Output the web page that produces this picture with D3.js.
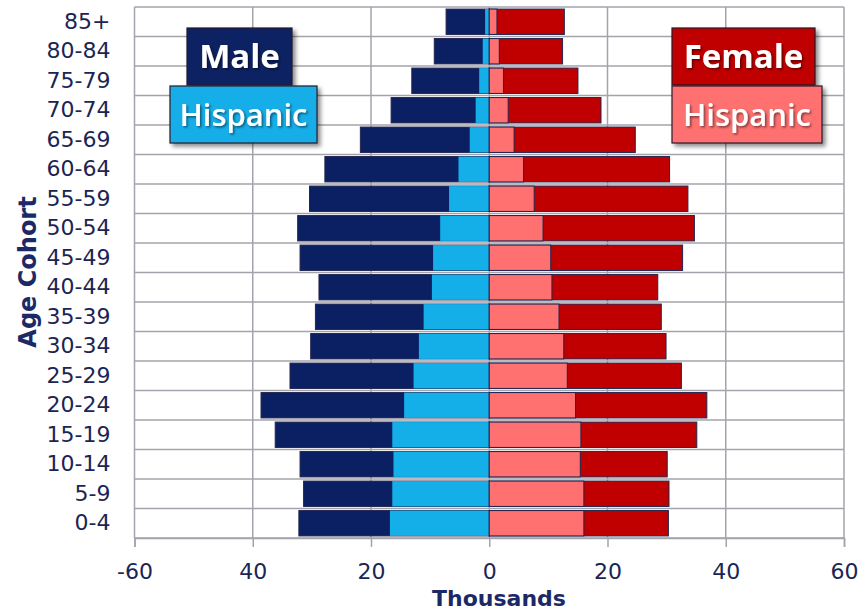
<!DOCTYPE html>
<html>
<head>
<meta charset="utf-8">
<script src="https://cdn.jsdelivr.net/npm/d3@7"></script>
<style>
	body { margin: 0; background: #fff; }
	svg { display: block; }
	.tick text { font-family: "DejaVu Sans", sans-serif; fill: #1b2553; }
</style>
</head>
<body>
<div id="chart"></div>
<script>
// Age cohorts, bottom to top
const ageGroups = ["0-4", "5-9", "10-14", "15-19", "20-24", "25-29", "30-34", "35-39", "40-44",
	"45-49", "50-54", "55-59", "60-64", "65-69", "70-74", "75-79", "80-84", "85+"];

// Thousands of people
const maleTotal      = [32.2, 31.4, 32.0, 36.2, 38.6, 33.7, 30.2, 29.4, 28.8, 32.0, 32.4, 30.4, 27.8, 21.8, 16.6, 13.1, 9.3, 7.3];
const maleHispanic   = [16.8, 16.4, 16.2, 16.4, 14.4, 12.8, 11.9, 11.1, 9.7, 9.5, 8.3, 6.8, 5.2, 3.3, 2.3, 1.7, 1.1, 0.7];
const femaleTotal    = [30.3, 30.4, 30.1, 35.1, 36.8, 32.5, 29.9, 29.1, 28.5, 32.7, 34.7, 33.6, 30.5, 24.7, 18.9, 15.0, 12.4, 12.7];
const femaleHispanic = [16.0, 16.0, 15.4, 15.5, 14.6, 13.2, 12.6, 11.8, 10.6, 10.4, 9.1, 7.6, 5.8, 4.2, 3.2, 2.4, 1.7, 1.3];

const xTicks      = [-60, -40, -20, 0, 20, 40, 60];
const xTickLabels = ["-60", "40", "20", "0", "20", "40", "60"];

const width = 861, height = 613;
const plotLeft = 134.5, plotRight = 844, plotTop = 7, plotBottom = 538;
const colors = { male: "#0b2062", maleHisp: "#14aee9", female: "#c00000", femaleHisp: "#ff7171" };

const svg = d3.select("#chart").append("svg")
	.attr("width", width).attr("height", height);

// drop shadow for legend boxes
const defs = svg.append("defs");
const shadow = defs.append("filter").attr("id", "shadow")
	.attr("x", "-20%").attr("y", "-20%").attr("width", "140%").attr("height", "150%");
shadow.append("feDropShadow").attr("dx", 3).attr("dy", 3).attr("stdDeviation", 2)
	.attr("flood-color", "#000").attr("flood-opacity", 0.45);
const textShadow = defs.append("filter").attr("id", "tshadow");
textShadow.append("feDropShadow").attr("dx", 1.5).attr("dy", 1.5).attr("stdDeviation", 1)
	.attr("flood-color", "#000").attr("flood-opacity", 0.5);

const x = d3.scaleLinear([-60, 60], [plotLeft, plotRight]);
const y = d3.scaleBand(ageGroups.slice().reverse(), [plotTop, plotBottom])
	.paddingInner(0.14).paddingOuter(0.07);

const data = ageGroups.map((g, i) => ({
	group: g, mt: maleTotal[i], mh: maleHispanic[i], ft: femaleTotal[i], fh: femaleHispanic[i]
}));

// Gridlines
const grid = svg.append("g").attr("stroke", "#a3a3ab").attr("stroke-width", 1.5);
const rowEdges = ageGroups.map(g => y(g) - y.step() * 0.07).concat([plotBottom]);
grid.selectAll("line.h").data(rowEdges).join("line").classed("h", true)
	.attr("x1", plotLeft).attr("x2", plotRight).attr("y1", d => d).attr("y2", d => d);
grid.selectAll("line.v").data(xTicks).join("line").classed("v", true)
	.attr("x1", d => x(d)).attr("x2", d => x(d)).attr("y1", plotTop).attr("y2", plotBottom);

// Bars: totals first, Hispanic share drawn over them from zero
const bars = svg.append("g").attr("stroke", "#22254f").attr("stroke-width", 1);
const bh = y.bandwidth();
bars.selectAll("rect.mt").data(data).join("rect").classed("mt", true)
	.attr("x", d => x(-d.mt)).attr("y", d => y(d.group))
	.attr("width", d => x(0) - x(-d.mt)).attr("height", bh).attr("fill", colors.male);
bars.selectAll("rect.mh").data(data).join("rect").classed("mh", true)
	.attr("x", d => x(-d.mh)).attr("y", d => y(d.group))
	.attr("width", d => x(0) - x(-d.mh)).attr("height", bh).attr("fill", colors.maleHisp)
	.attr("stroke", "none");
bars.selectAll("rect.ft").data(data).join("rect").classed("ft", true)
	.attr("x", x(0)).attr("y", d => y(d.group))
	.attr("width", d => x(d.ft) - x(0)).attr("height", bh).attr("fill", colors.female);
bars.selectAll("rect.fh").data(data).join("rect").classed("fh", true)
	.attr("x", x(0)).attr("y", d => y(d.group))
	.attr("width", d => x(d.fh) - x(0)).attr("height", bh).attr("fill", colors.femaleHisp);

// Axes
const axisX = svg.append("g").attr("transform", `translate(0, ${plotBottom})`)
	.call(d3.axisBottom(x).tickValues(xTicks).tickFormat((d, i) => xTickLabels[i])
		.tickSize(9).tickPadding(16));
axisX.select(".domain").attr("stroke", "#a3a3ab").attr("stroke-width", 1.5);
axisX.selectAll(".tick line").attr("stroke", "#a3a3ab").attr("stroke-width", 1.5);
axisX.selectAll(".tick text").style("font-size", "22px");

const axisY = svg.append("g").attr("transform", `translate(${plotLeft}, 0)`)
	.call(d3.axisLeft(y).tickSize(0).tickPadding(24));
axisY.select(".domain").remove();
axisY.selectAll(".tick text").style("font-size", "22px");

// Axis titles
svg.append("text")
	.attr("x", 499).attr("y", 606).attr("text-anchor", "middle")
	.style("font-family", "DejaVu Sans, sans-serif").style("font-weight", "bold")
	.style("font-size", "22px").attr("fill", "#1b2a66").text("Thousands");
svg.append("text")
	.attr("transform", "translate(36, 272) rotate(-90)").attr("text-anchor", "middle")
	.style("font-family", "DejaVu Sans, sans-serif").style("font-weight", "bold")
	.style("font-size", "24px").attr("fill", "#1b2a66").text("Age Cohort");

// Legend boxes
const legend = [
	{ label: "Male",     x: 187, y: 28, w: 105, h: 57, fill: colors.male,       bold: true },
	{ label: "Hispanic", x: 170, y: 86, w: 147, h: 57, fill: colors.maleHisp,   bold: false },
	{ label: "Female",   x: 672, y: 28, w: 143, h: 57, fill: colors.female,     bold: true },
	{ label: "Hispanic", x: 672, y: 86, w: 150, h: 57, fill: colors.femaleHisp, bold: false }
];
const lg = svg.append("g").selectAll("g").data(legend).join("g");
lg.append("rect")
	.attr("x", d => d.x).attr("y", d => d.y).attr("width", d => d.w).attr("height", d => d.h)
	.attr("fill", d => d.fill).attr("stroke", "#2a1a2a").attr("stroke-width", 1.2)
	.attr("filter", "url(#shadow)");
lg.append("text")
	.attr("x", d => d.x + d.w / 2).attr("y", d => d.y + d.h / 2 + 11)
	.attr("text-anchor", "middle").attr("fill", "#fff")
	.style("font-family", "Open Sans, sans-serif")
	.style("font-weight", d => d.bold ? "bold" : "600")
	.style("font-size", d => d.bold ? "33px" : "31px")
	.attr("filter", "url(#tshadow)")
	.text(d => d.label);
</script>
</body>
</html>
